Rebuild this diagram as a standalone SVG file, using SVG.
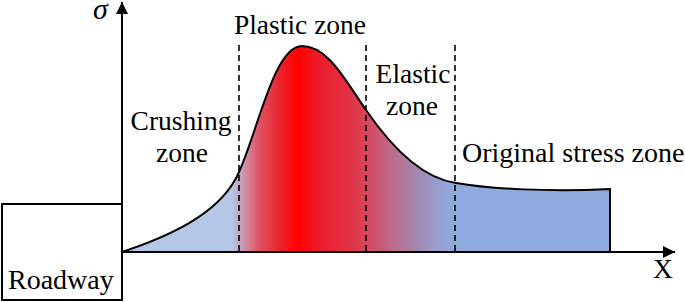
<svg xmlns="http://www.w3.org/2000/svg" width="685" height="302" viewBox="0 0 685 302">
<style>
  .lbl { font-family: 'Liberation Serif', 'Times New Roman', serif; font-size: 27.5px; fill: #000; }
  .axis { stroke: #000; stroke-width: 2; fill: none; }
  .dash { stroke: #000; stroke-width: 1.6; stroke-dasharray: 6 4; fill: none; }
  .box { stroke: #000; stroke-width: 2; fill: #fff; }
</style>
<defs>
  <linearGradient id="stress" gradientUnits="userSpaceOnUse" x1="122" y1="0" x2="610" y2="0">
    <stop offset="0" stop-color="#b4c7e7"/>
    <stop offset="0.225" stop-color="#b4c7e7"/>
    <stop offset="0.262" stop-color="#d7788c"/>
    <stop offset="0.283" stop-color="#e1505f"/>
    <stop offset="0.324" stop-color="#eb232d"/>
    <stop offset="0.359" stop-color="#ff0000"/>
    <stop offset="0.406" stop-color="#eb1e2d"/>
    <stop offset="0.467" stop-color="#e13246"/>
    <stop offset="0.5" stop-color="#d7465a"/>
    <stop offset="0.529" stop-color="#c85a78"/>
    <stop offset="0.570" stop-color="#b47396"/>
    <stop offset="0.611" stop-color="#a08cb4"/>
    <stop offset="0.652" stop-color="#96a0d2"/>
    <stop offset="0.684" stop-color="#8faadc"/>
    <stop offset="1" stop-color="#8faadc"/>
  </linearGradient>
  <marker id="arrow" viewBox="0 0 12 12" refX="12" refY="6" markerWidth="12" markerHeight="12" markerUnits="userSpaceOnUse" orient="auto">
    <path d="M0,0 L12,6 L0,12 Z" fill="#000"/>
  </marker>
</defs>

<g id="roadway">
  <rect class="box" x="2" y="204" width="120" height="96"/>
  <text class="lbl" x="8" y="289" style="font-size:28px">Roadway</text>
</g>

<g id="stress-curve">
  <path d="M122,252 C170,236 215,215 235,180 C255,145 272,46 302,46 C328,46 345,80 366,110 C390,145 420,178 456,183 C490,189 550,192 610,189 L610,252 Z" fill="url(#stress)" stroke="none"/>
  <path d="M122,252 C170,236 215,215 235,180 C255,145 272,46 302,46 C328,46 345,80 366,110 C390,145 420,178 456,183 C490,189 550,192 610,189 L610,252" fill="none" stroke="#000" stroke-width="2"/>
</g>

<g id="connectors">
  <line class="axis" x1="122" y1="252" x2="122" y2="2" marker-end="url(#arrow)"/>
  <line class="axis" x1="122" y1="252" x2="675" y2="252" marker-end="url(#arrow)"/>
  <line class="dash" x1="239" y1="45" x2="239" y2="252"/>
  <line class="dash" x1="366" y1="45" x2="366" y2="252"/>
  <line class="dash" x1="455" y1="45" x2="455" y2="252"/>
</g>

<g id="labels">
  <text class="lbl" x="93" y="19" style="font-size:30px; font-style:italic">σ</text>
  <text class="lbl" x="300" y="34" text-anchor="middle">Plastic zone</text>
  <text class="lbl" x="181" y="130" text-anchor="middle">Crushing</text>
  <text class="lbl" x="182" y="162" text-anchor="middle">zone</text>
  <text class="lbl" x="413" y="83" text-anchor="middle">Elastic</text>
  <text class="lbl" x="412" y="115" text-anchor="middle">zone</text>
  <text class="lbl" x="462" y="162" style="font-size:28px">Original stress zone</text>
  <text class="lbl" x="653" y="278">X</text>
</g>
</svg>
